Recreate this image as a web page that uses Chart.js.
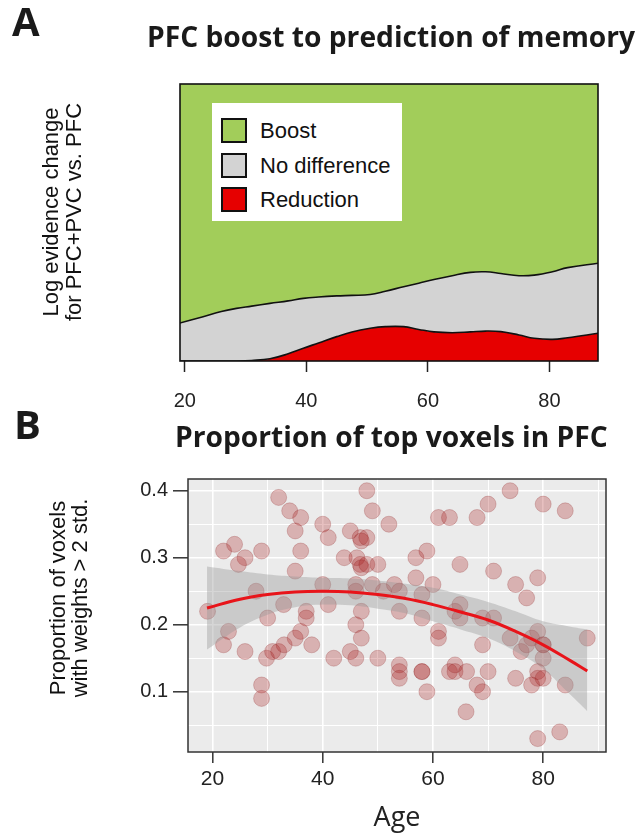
<!DOCTYPE html>
<html>
<head>
    <meta http-equiv="Content-Type" content="text/html; charset=utf-8"/>
    <title>PFC boost / top voxels</title>
    <style>
        body { margin: 0; background: #fff; }
        #fig { position: relative; width: 635px; height: 835px; overflow: hidden;
               font-family: "Liberation Sans", Arial, sans-serif; color: #111; }
        #fig canvas { position: absolute; left: 0; }
        .txt { position: absolute; white-space: nowrap; color: #1a1a1a; }
        .letter { font: bold 40px/1 "Open Sans", sans-serif; }
        .title { font: bold 28.2px/1 "Open Sans", sans-serif; }
        .ytitle { width: 300px; text-align: center; font-size: 22px; transform: rotate(-90deg); color: #111; }
        #legendA { position: absolute; left: 212px; top: 103px; width: 190px; height: 118px; background: #fff; }
        #legendA .row { position: absolute; left: 9px; height: 25px; }
        #legendA .sw { position: absolute; left: 0; top: 0; width: 22px; height: 21px; border: 2px solid #111; }
        #legendA .lb { position: absolute; left: 39px; top: 0; font-size: 22px; line-height: 25px; color: #111; white-space: nowrap; }
    </style>
</head>
<body>
<div id="fig">
    <canvas id="chartA" width="635" height="420" style="top:0"></canvas>
    <canvas id="chartB" width="635" height="435" style="top:400px"></canvas>

    <div class="txt letter" style="left:12px; top:1px">A</div>
    <div class="txt title" style="left:147px; top:22px">PFC boost to prediction of memory</div>
    <div class="txt ytitle" style="left:-88px; top:189px; line-height:23px">Log evidence change<br>for PFC+PVC vs. PFC</div>
    <div id="legendA"></div>

    <div class="txt letter" style="left:14px; top:404px">B</div>
    <div class="txt title" style="left:175px; top:422px">Proportion of top voxels in PFC</div>
    <div class="txt ytitle" style="left:-81px; top:576px; line-height:22px">Proportion of voxels<br>with weights &gt; 2 std.</div>
</div>

<script src="https://cdn.jsdelivr.net/npm/chart.js"></script>
<script>
    // ---- panel A: stacked shares along age ----
    const ageA = [19, 23, 26, 28.5, 31, 34, 37, 39.5, 42, 45, 47.5, 50.5, 53, 56, 58.5, 61, 64, 67, 69.5, 72, 75, 77.5, 80.5, 83, 88];
    // top edge of the "no difference" band (reduction + no difference)
    const noDiffTop = [0.136, 0.160, 0.179, 0.190, 0.198, 0.208, 0.217, 0.226, 0.231, 0.235, 0.237, 0.240, 0.252, 0.268, 0.281, 0.294, 0.308, 0.320, 0.322, 0.316, 0.308, 0.310, 0.322, 0.337, 0.353];
    // top edge of the "reduction" band
    const reductionTop = [0, 0, 0, 0, 0.002, 0.008, 0.026, 0.046, 0.065, 0.088, 0.105, 0.118, 0.124, 0.124, 0.114, 0.105, 0.102, 0.105, 0.108, 0.106, 0.094, 0.082, 0.078, 0.084, 0.100];
    const ticksA = [20, 40, 60, 80];

    // ---- panel B: scatter + quadratic fit ----
    const ptAge = [19.1, 22, 24, 25.9, 24.7, 22, 22.9, 25.9, 27.9, 28.9, 30, 28.9, 28.9, 29.8, 30.9, 32, 34, 36, 35, 35,
        36, 32.9, 37, 37, 32, 33, 35, 36, 38, 40, 41, 40, 41, 42, 43.9, 45, 46.8, 47, 48, 48,
        49, 46.2, 46.8, 47, 48, 50, 46, 46, 49, 51, 47, 46, 47, 45, 46, 50, 52, 53, 53.9, 53.9,
        53.9, 53.9, 53.9, 56.9, 58.9, 56.9, 58, 58, 58, 58, 58.9, 60, 61, 63, 61, 61, 63, 64, 64, 64.9,
        64, 64.9, 64.9, 66.1, 66, 68, 70, 68, 69, 69, 69, 71, 70, 71, 74, 75, 74, 75, 76, 77,
        77, 79, 77.9, 79, 80, 80, 80, 79, 79, 77.9, 80, 80, 84, 84, 83, 79, 88];
    const ptProp = [0.22, 0.31, 0.32, 0.30, 0.29, 0.17, 0.19, 0.16, 0.25, 0.31, 0.21, 0.11, 0.09, 0.15, 0.16, 0.39, 0.37, 0.36, 0.34, 0.28,
        0.31, 0.23, 0.22, 0.21, 0.16, 0.17, 0.18, 0.19, 0.17, 0.35, 0.33, 0.26, 0.23, 0.15, 0.30, 0.34, 0.33, 0.325, 0.33, 0.40,
        0.37, 0.30, 0.29, 0.285, 0.29, 0.29, 0.26, 0.25, 0.26, 0.25, 0.22, 0.20, 0.18, 0.16, 0.15, 0.15, 0.35, 0.26, 0.25, 0.22,
        0.14, 0.13, 0.12, 0.30, 0.31, 0.27, 0.245, 0.21, 0.13, 0.13, 0.10, 0.26, 0.36, 0.36, 0.19, 0.18, 0.13, 0.14, 0.13, 0.23,
        0.22, 0.21, 0.29, 0.13, 0.07, 0.36, 0.38, 0.11, 0.10, 0.17, 0.21, 0.21, 0.13, 0.28, 0.40, 0.26, 0.18, 0.12, 0.16, 0.17,
        0.24, 0.27, 0.18, 0.19, 0.17, 0.17, 0.15, 0.13, 0.12, 0.11, 0.12, 0.38, 0.37, 0.11, 0.04, 0.03, 0.18];
    const fitAge = [19, 25, 30, 35, 40, 45, 50, 55, 60, 65, 70, 75, 80, 85, 88];
    const fitProp = [0.225, 0.238, 0.245, 0.249, 0.250, 0.249, 0.245, 0.239, 0.230, 0.219, 0.207, 0.190, 0.170, 0.146, 0.131];
    const fitHigh = [0.287, 0.280, 0.275, 0.272, 0.270, 0.269, 0.266, 0.261, 0.255, 0.245, 0.234, 0.220, 0.205, 0.197, 0.193];
    const fitLow = [0.163, 0.196, 0.215, 0.226, 0.230, 0.229, 0.224, 0.217, 0.205, 0.193, 0.180, 0.160, 0.134, 0.095, 0.071];
    const gridXB = [20, 30, 40, 50, 60, 70, 80, 90];
    const gridYB = [0.05, 0.1, 0.15, 0.2, 0.25, 0.3, 0.35, 0.4];

    const xy = (xs, ys) => xs.map((x, i) => ({x: x, y: ys[i]}));

    // panel background + box around the plot area
    const plotFrame = {
        id: 'plotFrame',
        beforeDraw(chart, args, opts) {
            if (!opts.fill) return;
            const a = chart.chartArea, ctx = chart.ctx;
            ctx.save();
            ctx.fillStyle = opts.fill;
            ctx.fillRect(a.left, a.top, a.right - a.left, a.bottom - a.top);
            ctx.restore();
        },
        afterDraw(chart, args, opts) {
            const a = chart.chartArea, ctx = chart.ctx;
            ctx.save();
            ctx.strokeStyle = opts.color;
            ctx.lineWidth = opts.width;
            ctx.strokeRect(a.left, a.top, a.right - a.left, a.bottom - a.top);
            ctx.restore();
        }
    };

    const chartA = new Chart(document.getElementById('chartA'), {
        type: 'line',
        data: {
            datasets: [
                {
                    label: 'Boost',
                    data: xy(ageA, noDiffTop),
                    backgroundColor: '#a2cd5a',
                    borderWidth: 0,
                    fill: 'end'
                },
                {
                    label: 'No difference',
                    data: xy(ageA, noDiffTop),
                    backgroundColor: '#d3d3d3',
                    borderColor: '#111',
                    borderWidth: 1.6,
                    fill: 2
                },
                {
                    label: 'Reduction',
                    data: xy(ageA, reductionTop),
                    backgroundColor: '#e60000',
                    borderColor: '#111',
                    borderWidth: 1.6,
                    fill: 'origin'
                }
            ]
        },
        options: {
            responsive: false,
            animation: false,
            layout: {padding: {left: 180, top: 84, right: 37, bottom: 0}},
            elements: {
                point: {radius: 0},
                line: {tension: 0.4}
            },
            scales: {
                x: {
                    type: 'linear',
                    min: 19.2,
                    max: 88,
                    afterBuildTicks: (s) => { s.ticks = ticksA.map(v => ({value: v})); },
                    afterFit: (s) => { s.height = 59; },
                    border: {display: false},
                    grid: {drawOnChartArea: false, drawTicks: true, tickLength: 11, tickColor: '#222', tickWidth: 1.5},
                    ticks: {color: '#222', padding: 17, font: {family: 'Liberation Sans', size: 20}}
                },
                y: {display: false, min: 0, max: 1}
            },
            plugins: {
                legend: {display: false},
                tooltip: {enabled: false},
                filler: {drawTime: 'beforeDatasetsDraw'},
                plotFrame: {color: '#111', width: 1.6}
            }
        },
        plugins: [plotFrame]
    });

    // legend drawn inside the plot, built from the datasets
    const legendA = document.getElementById('legendA');
    chartA.data.datasets.forEach((ds, i) => {
        const row = document.createElement('div');
        row.className = 'row';
        row.style.top = (15 + i * 34.5) + 'px';
        row.innerHTML = '<div class="sw" style="background:' + ds.backgroundColor + '"></div><div class="lb">' + ds.label + '</div>';
        legendA.appendChild(row);
    });

    const isMajorX = (v) => v % 20 === 0;
    const isMajorY = (v) => Math.round(v * 100) % 10 === 0;

    new Chart(document.getElementById('chartB'), {
        type: 'scatter',
        data: {
            datasets: [
                {
                    type: 'line',
                    data: xy(fitAge, fitProp),
                    borderColor: '#e8141a',
                    borderWidth: 3,
                    pointRadius: 0,
                    tension: 0.4,
                    fill: false,
                    order: 0
                },
                {
                    type: 'line',
                    data: xy(fitAge, fitHigh),
                    borderWidth: 0,
                    pointRadius: 0,
                    tension: 0.4,
                    backgroundColor: 'rgba(153,153,153,0.4)',
                    fill: 2,
                    order: 1
                },
                {
                    type: 'line',
                    data: xy(fitAge, fitLow),
                    borderWidth: 0,
                    pointRadius: 0,
                    tension: 0.4,
                    fill: false,
                    order: 2
                },
                {
                    data: xy(ptAge, ptProp),
                    pointRadius: 8,
                    pointBackgroundColor: 'rgba(170,30,30,0.28)',
                    pointBorderColor: 'rgba(130,20,20,0.22)',
                    pointBorderWidth: 1,
                    order: 3
                }
            ]
        },
        options: {
            responsive: false,
            animation: false,
            layout: {padding: {left: 0, top: 79, right: 29, bottom: 0}},
            scales: {
                x: {
                    type: 'linear',
                    min: 15.55,
                    max: 91.4,
                    afterBuildTicks: (s) => { s.ticks = gridXB.map(v => ({value: v})); },
                    afterFit: (s) => { s.height = 83; },
                    border: {display: false},
                    grid: {
                        color: '#fff',
                        lineWidth: (c) => isMajorX(c.tick.value) ? 1.6 : 1,
                        tickLength: 11,
                        tickWidth: 1.5,
                        tickColor: (c) => isMajorX(c.tick.value) ? '#333' : 'rgba(0,0,0,0)'
                    },
                    ticks: {
                        color: '#222',
                        padding: 4,
                        font: {family: 'Liberation Sans', size: 21},
                        callback: (v) => isMajorX(v) ? String(v) : ''
                    },
                    title: {
                        display: true,
                        text: 'Age',
                        color: '#222',
                        font: {family: 'Open Sans', size: 27},
                        padding: {top: 0, bottom: 0}
                    }
                },
                y: {
                    min: 0.01,
                    max: 0.4175,
                    afterBuildTicks: (s) => { s.ticks = gridYB.map(v => ({value: v})); },
                    afterFit: (s) => { s.width = 188; },
                    border: {display: false},
                    grid: {
                        color: '#fff',
                        lineWidth: (c) => isMajorY(c.tick.value) ? 1.6 : 1,
                        tickLength: 15,
                        tickWidth: 1.5,
                        tickColor: (c) => isMajorY(c.tick.value) ? '#333' : 'rgba(0,0,0,0)'
                    },
                    ticks: {
                        color: '#222',
                        padding: 5,
                        font: {family: 'Liberation Sans', size: 20},
                        callback: (v) => isMajorY(v) ? v.toFixed(1) : ''
                    }
                }
            },
            plugins: {
                legend: {display: false},
                tooltip: {enabled: false},
                plotFrame: {fill: '#ebebeb', color: '#333', width: 1.5}
            }
        },
        plugins: [plotFrame]
    });
</script>
</body>
</html>
